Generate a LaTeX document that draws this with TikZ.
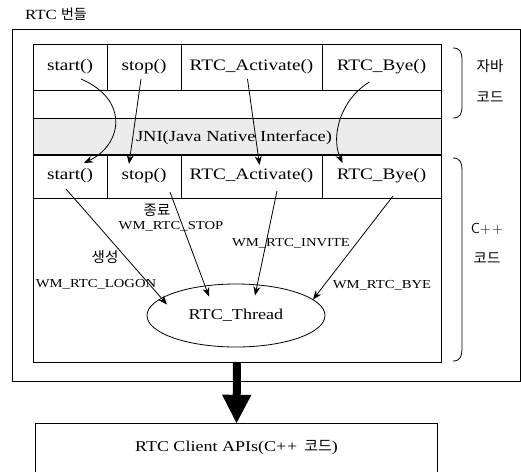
\documentclass[tikz,border=0pt]{standalone}
\usepackage{fontspec}
\setmainfont[FakeStretch=1.2]{Liberation Serif}
\newfontfamily\kr{Noto Sans CJK KR}
\usetikzlibrary{arrows.meta,shapes.geometric}
\begin{document}
\begin{tikzpicture}[x=1pt,y=-1pt,
  cell/.style={draw,line width=0.8pt,rectangle,inner sep=0,outer sep=0,font=\fontsize{16}{16}\selectfont},
  lbl/.style={font=\fontsize{12.2}{13}\selectfont,inner sep=0},
  krl/.style={font=\kr\fontsize{14.5}{15}\selectfont,inner sep=0},
  arr/.style={line width=0.8pt,-{Stealth[length=9pt,width=7pt]}},
  brace/.style={line width=0.8pt}]
\useasboundingbox (0,0) rectangle (521,472);
% title
\node[anchor=west,inner sep=0,font=\fontsize{14}{14}\selectfont] (title) at (25,14) {RTC {\kr\fontsize{14}{14}\selectfont 번들}};
% outer box
\node[draw,line width=0.8pt,rectangle,inner sep=0,minimum width=508pt,minimum height=352pt] (outer) at (266,205) {};
% java row
\node[cell,minimum width=74pt,minimum height=46pt] (js) at (70,67) {start()};
\node[cell,minimum width=74pt,minimum height=46pt] (jst) at (144,67) {stop()};
\node[cell,minimum width=141pt,minimum height=46pt] (jac) at (251.5,67) {RTC\_Activate()};
\node[cell,minimum width=119pt,minimum height=46pt] (jby) at (381.5,67) {RTC\_Bye()};
\node[cell,minimum width=408pt,minimum height=28pt] (jempty) at (237,104) {};
\node[cell,fill=gray!15,minimum width=408pt,minimum height=37pt] (jni) at (237,136.5) {};
\node[inner sep=0,font=\fontsize{15.4}{16}\selectfont] (jnit) at (234,138) {JNI(Java Native Interface)};
% lower big box
\node[cell,minimum width=408pt,minimum height=207pt] (cbox) at (237,258.5) {};
\node[cell,minimum width=74pt,minimum height=44pt] (cs) at (70,176) {start()};
\node[cell,minimum width=74pt,minimum height=44pt] (cst) at (144,176) {stop()};
\node[cell,minimum width=141pt,minimum height=44pt] (cac) at (251.5,176) {RTC\_Activate()};
\node[cell,minimum width=119pt,minimum height=44pt] (cby) at (381.5,176) {RTC\_Bye()};
% thread
\node[draw,line width=0.8pt,ellipse,inner sep=0,minimum width=178pt,minimum height=63pt,font=\fontsize{15.1}{16}\selectfont] (th) at (236,315.5) {RTC\_Thread};
% labels
\node[krl] (l1) at (157,210) {종료};
\node[lbl] (l2) at (171,226) {WM\_RTC\_STOP};
\node[lbl] (l3) at (291,243) {WM\_RTC\_INVITE};
\node[krl] (l4) at (105,257) {생성};
\node[lbl] (l5) at (96,284) {WM\_RTC\_LOGON};
\node[lbl] (l6) at (382,285) {WM\_RTC\_BYE};
% java -> c++ arrows
\draw[arr] ([shift={(11,12)}]js.center) .. controls (130,100) and (122,145) .. ([shift={(14,-13)}]cs.center);
\draw[arr] ([shift={(-3,12)}]jst.center) -- ([shift={(-15,-12)}]cst.center);
\draw[arr] ([shift={(-4,12)}]jac.center) -- ([shift={(8,-11)}]cac.center);
\draw[arr] ([shift={(-12,15)}]jby.center) .. controls (342,98) and (330,135) .. ([shift={(-39,-13)}]cby.center);
% c++ -> thread
\draw[arr] ([shift={(-4,13)}]cs.center) -- ([shift={(-69,-11)}]th.center);
\draw[arr] ([shift={(26,16)}]cst.center) -- ([shift={(-27,-19)}]th.center);
\draw[arr] ([shift={(25.5,15)}]cac.center) -- ([shift={(19,-20)}]th.center);
\draw[arr] ([shift={(11.5,20)}]cby.center) -- ([shift={(77,-16)}]th.center);
% braces
\draw[brace] (453,48) .. controls (460,48) and (462,52) .. (462,60) -- (462,106) .. controls (462,114) and (460,118) .. (453,118);
\node[krl] (jv1) at (490,66) {자바};
\node[krl] (jv2) at (490,97) {코드};
\draw[brace] (453,158) .. controls (460,158) and (462,162) .. (462,172) -- (462,347) .. controls (462,357) and (460,361) .. (453,361);
\node[inner sep=0,font=\fontsize{14.5}{15}\selectfont\sffamily] (cp1) at (487,229) {C+\kern1pt+};
\node[krl] (cp2) at (487,258) {코드};
% api box
\node[inner sep=0,minimum width=401pt,minimum height=48pt,font=\fontsize{15}{16}\selectfont] (api) at (236.5,448) {RTC Client APIs(C+\kern1pt+\,\ {\kr 코드})};
\draw[line width=0.8pt] (api.south west) -- (api.north west) -- (api.north east) -- (api.south east);
% thick arrow
\draw[line width=8pt,-{Triangle[length=29pt,width=27pt]}] (cbox.south) -- (api.north);
\end{tikzpicture}
\end{document}
